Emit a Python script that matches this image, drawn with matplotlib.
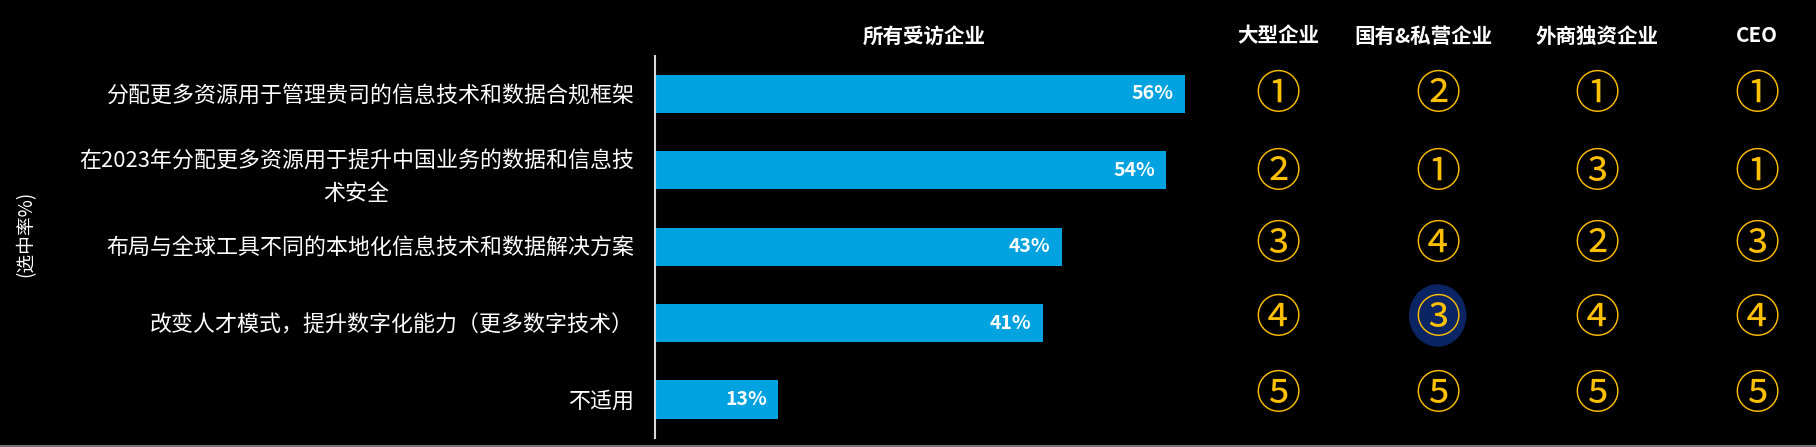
import matplotlib
matplotlib.use("Agg")
import matplotlib.pyplot as plt
from matplotlib.patches import Ellipse
from matplotlib.lines import Line2D

plt.rcParams['font.family'] = ['Noto Sans CJK SC', 'DejaVu Sans']

# ---------------- data ----------------
categories = [
    "分配更多资源用于管理贵司的信息技术和数据合规框架",
    "在2023年分配更多资源用于提升中国业务的数据和信息技\n术安全",
    "布局与全球工具不同的本地化信息技术和数据解决方案",
    "改变人才模式，提升数字化能力（更多数字技术）",
    "不适用",
]
all_companies = [56, 54, 43, 41, 13]
bar_title = "所有受访企业"

rank_groups = ["大型企业", "国有&私营企业", "外商独资企业", "CEO"]
rank_large = [1, 2, 3, 4, 5]
rank_soe_private = [2, 1, 4, 3, 5]
rank_foreign = [1, 3, 2, 4, 5]
rank_ceo = [1, 1, 3, 4, 5]
highlight = ("国有&私营企业", 3)   # (group, row index) with navy background

ylabel = "(选中率%)"
circled = "①②③④⑤"

# ---------------- style ----------------
BG = "#000000"
BAR = "#00a3e0"
GOLD = "#ffc000"
NAVY = "#0b2463"
rank_row_dy = [0.016, 0.03, -0.018, -0.06, -0.055]  # small vertical nudges of rank rows

W, H = 1816, 447
fig = plt.figure(figsize=(W / 100, H / 100), dpi=100, facecolor=BG)

# main bar axes
ax_left, ax_top, ax_bot = 655, 55.7, 437.7
px_per_unit = 9.46
xmax = 60
ax = fig.add_axes([ax_left / W, (H - ax_bot) / H,
                   xmax * px_per_unit / W, (ax_bot - ax_top) / H])
ax.set_facecolor("none")
ypos = list(range(len(categories)))
ax.barh(ypos, all_companies, height=0.5, color=BAR, zorder=2)
ax.set_xlim(0, xmax)
ax.set_ylim(len(categories) - 0.5, -0.5)
for s in ["top", "right", "bottom"]:
    ax.spines[s].set_visible(False)
ax.spines["left"].set_color("#d9d9d9")
ax.spines["left"].set_linewidth(1.5)
ax.set_xticks([])
ax.set_yticks(ypos)
ax.set_yticklabels(categories, fontsize=15.8, color="white", linespacing=1.6)
ax.tick_params(axis="y", length=0, pad=15)
for lbl in ax.get_yticklabels():
    lbl.set_multialignment("center")

for y, v in zip(ypos, all_companies):
    ax.annotate(f"{v}%", xy=(v, y), xytext=(-8, 0), textcoords="offset points",
                ha="right", va="center", color="white", fontsize=14,
                fontweight="bold")

ax.text((924 - ax_left) / (xmax * px_per_unit), 1 + (ax_top - 36) / (ax_bot - ax_top),
        bar_title, transform=ax.transAxes, ha="center", va="center",
        color="white", fontsize=14.8, fontweight="bold")

# ranking axes (shares the row scale with the bar axes)
col_px = 159.7
rx_left = 1278 - 0.5 * col_px
rax = fig.add_axes([rx_left / W, (H - ax_bot) / H,
                    3.8 * col_px / W, (ax_bot - ax_top) / H])
rax.set_facecolor("none")
rax.set_xlim(-0.5, 3.3)
rax.set_ylim(len(categories) - 0.5, -0.5)
rax.axis("off")

ranks = [rank_large, rank_soe_private, rank_foreign, rank_ceo]
header_dx = [0, -0.09, 0, 0]
for c, (g, rk) in enumerate(zip(rank_groups, ranks)):
    rax.text(c + header_dx[c], -0.5 - (ax_top - 36) / 76.4, g, ha="center",
             va="center", color="white", fontsize=14.8, fontweight="bold",
             clip_on=False)
    for r, val in enumerate(rk):
        if (g, r) == highlight:
            rax.add_patch(Ellipse((c, r - 0.1), width=56 / col_px, height=61 / 76.4,
                                  color=NAVY, zorder=1))
        rax.text(c, r + rank_row_dy[r], circled[val - 1], ha="center", va="center",
                 color=GOLD, fontsize=32.5, zorder=2)

fig.text(26 / W, 1 - 234 / H, ylabel, rotation=90, ha="center", va="center",
         color="white", fontsize=13.5)

fig.add_artist(Line2D([0, 1], [0.7 / H, 0.7 / H], color="#8c8c8c", linewidth=1.2,
                      transform=fig.transFigure))

fig.savefig("out.png", dpi=100, facecolor=BG)
